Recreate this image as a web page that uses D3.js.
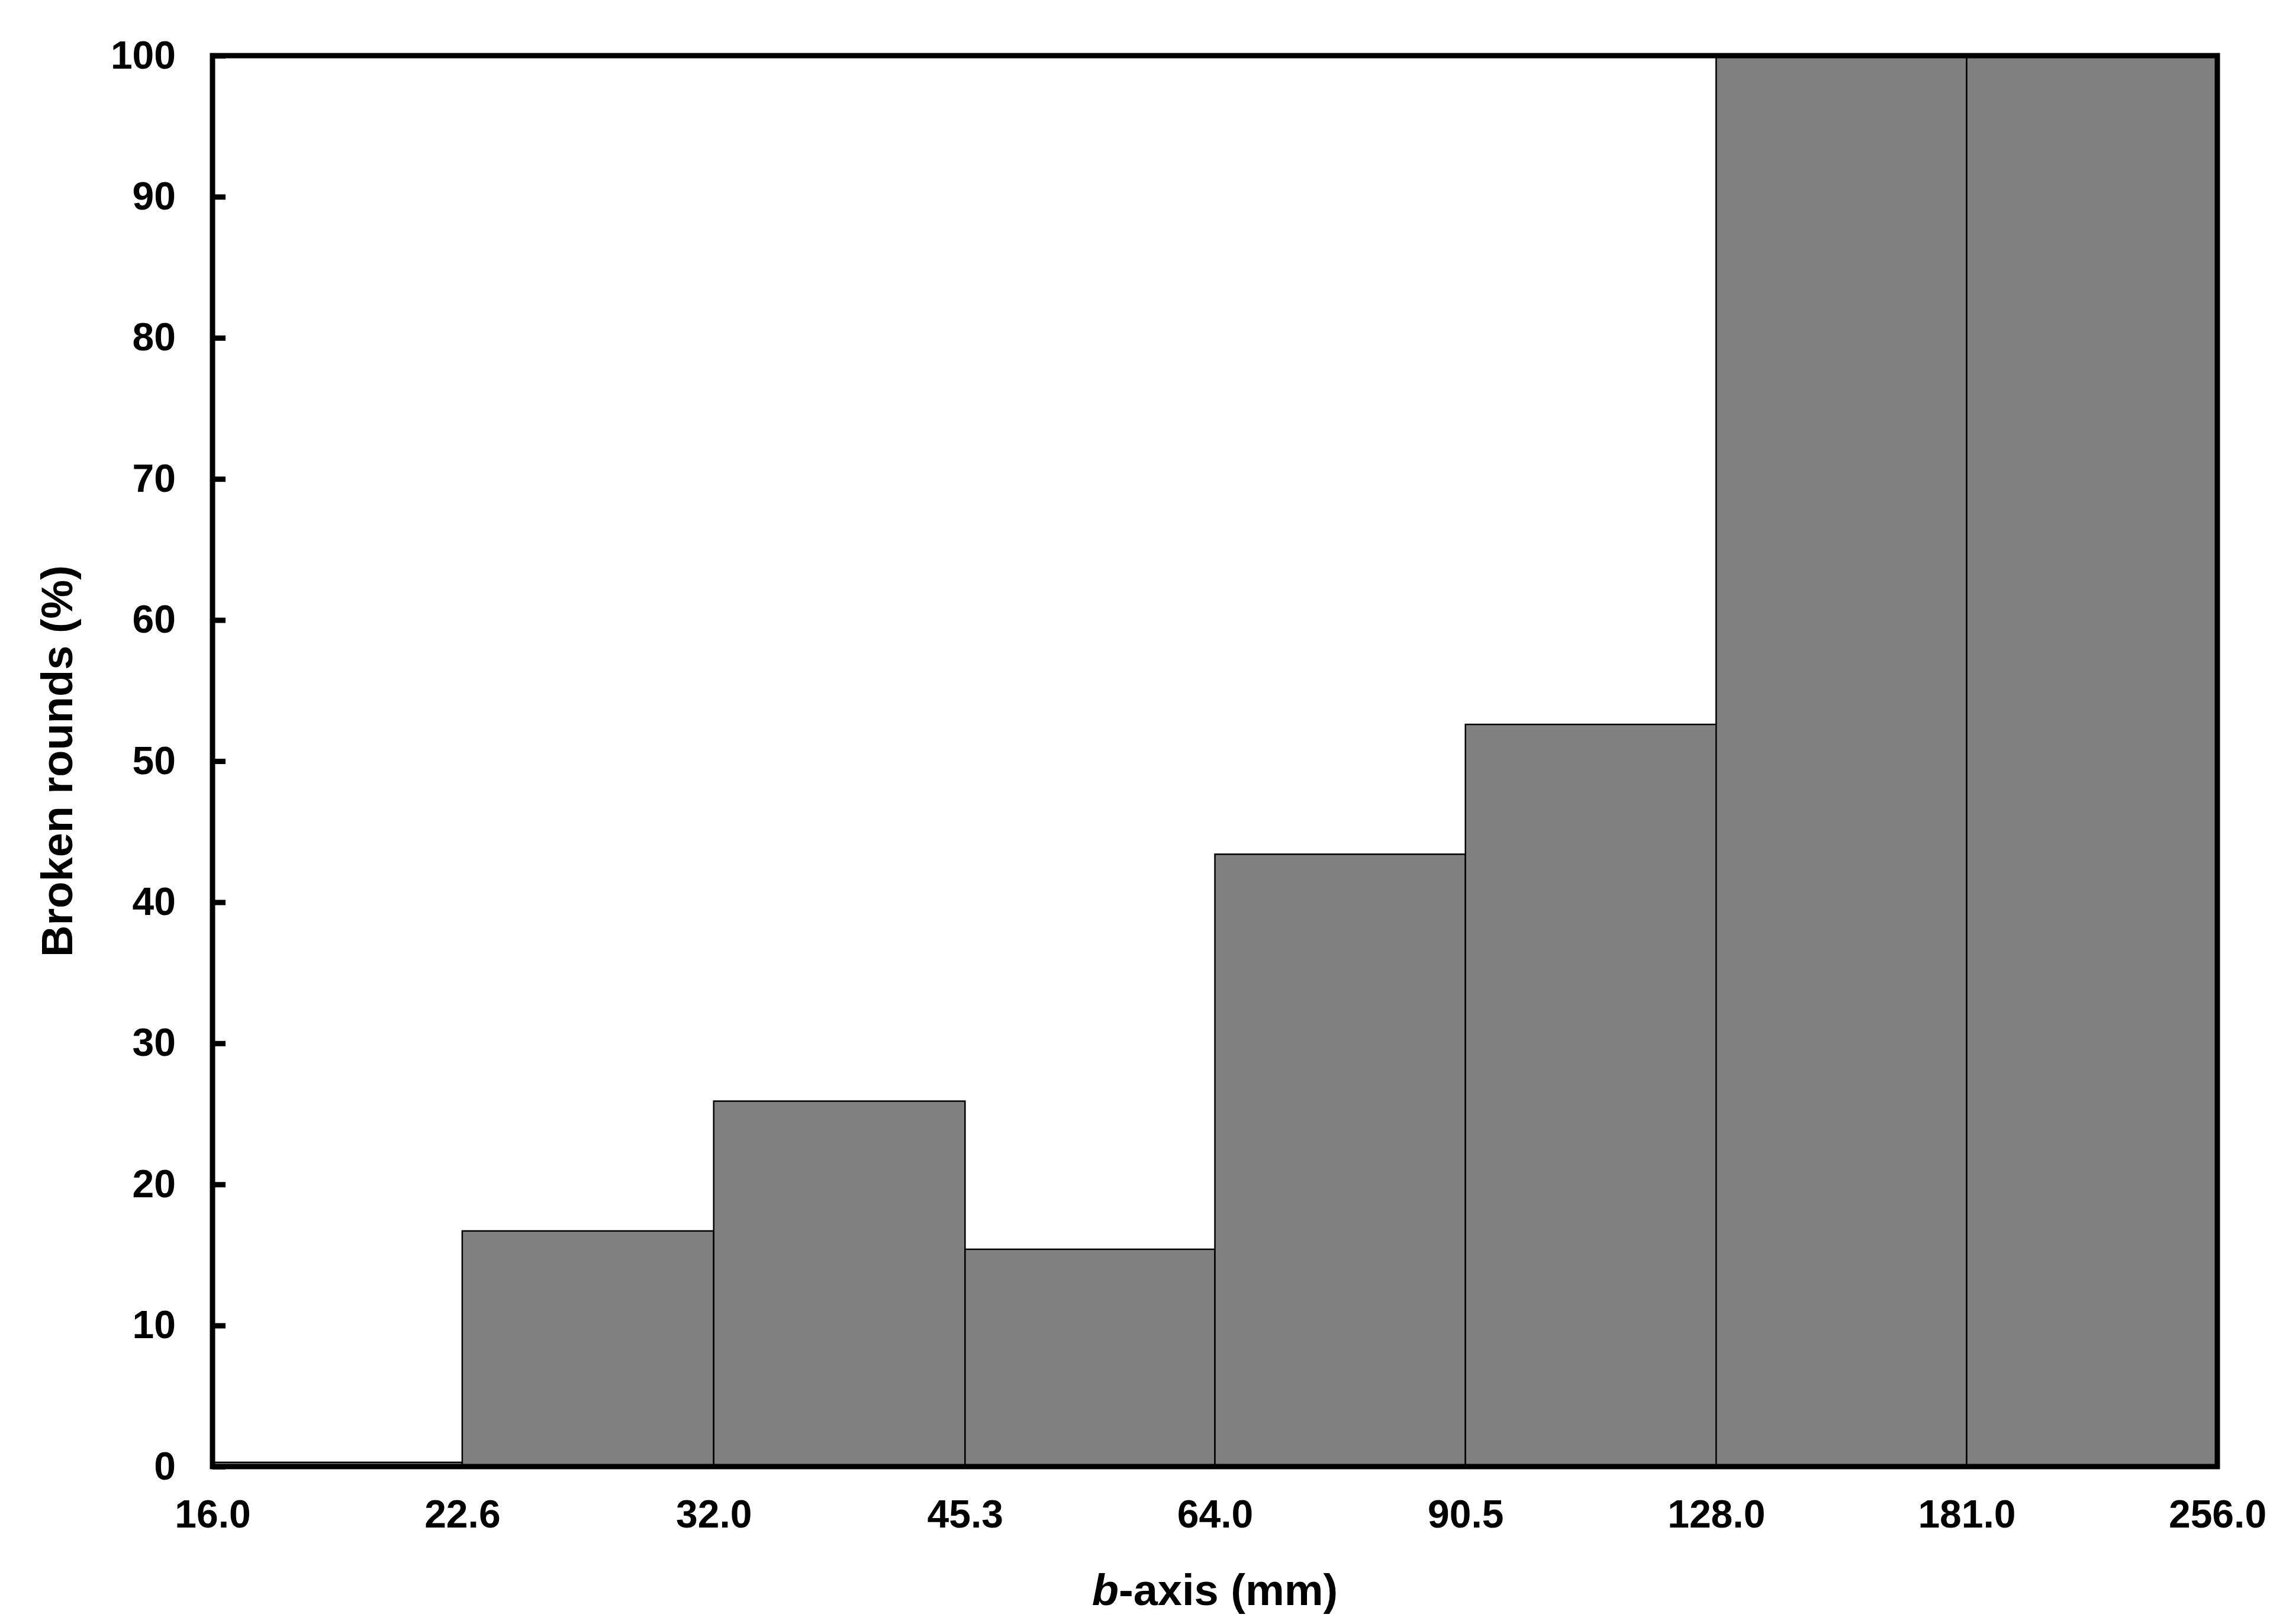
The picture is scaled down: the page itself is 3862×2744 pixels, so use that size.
<!DOCTYPE html>
<html><head><meta charset="utf-8">
<script src="https://cdn.jsdelivr.net/npm/d3@7"></script>
<style>body{margin:0;background:#fff}text{font-family:"Liberation Sans",Arial,sans-serif;font-weight:bold}</style>
</head><body><svg id="c" width="3862" height="2744"></svg>
<script>
var binEdges = [16.0, 22.6, 32.0, 45.3, 64.0, 90.5, 128.0, 181.0, 256.0];
var brokenPct = [0.3, 16.7, 25.9, 15.4, 43.4, 52.6, 100, 100];
var yTicks = [0, 10, 20, 30, 40, 50, 60, 70, 80, 90, 100];

var svg = d3.select('#c');
var m = {l: 359, r: 3746, t: 94, b: 2478};

var x = d3.scaleLog().base(2).domain([16, 256]).range([m.l, m.r]);
var y = d3.scaleLinear().domain([0, 100]).range([m.b, m.t]);

// bars
svg.append('g').selectAll('rect').data(brokenPct).join('rect')
	.attr('x', function(d, i) { return x(binEdges[i]); })
	.attr('width', function(d, i) { return x(binEdges[i + 1]) - x(binEdges[i]); })
	.attr('y', function(d) { return y(d); })
	.attr('height', function(d) { return y(0) - y(d); })
	.attr('fill', '#808080').attr('stroke', '#000').attr('stroke-width', 2.5);

// frame
svg.append('rect').attr('x', m.l).attr('y', m.t).attr('width', m.r - m.l).attr('height', m.b - m.t)
	.attr('fill', 'none').attr('stroke', '#000').attr('stroke-width', 9);

// y axis
var yAxis = svg.append('g').attr('transform', 'translate(' + m.l + ',0)')
	.call(d3.axisLeft(y).tickValues(yTicks).tickSize(-22).tickPadding(62));
yAxis.select('.domain').remove();
yAxis.selectAll('line').attr('stroke-width', 9);
yAxis.selectAll('text').attr('font-size', 66).attr('font-family', '"Liberation Sans",Arial,sans-serif');

// x axis labels
var xAxis = svg.append('g').attr('transform', 'translate(0,' + m.b + ')')
	.call(d3.axisBottom(x).tickValues(binEdges).tickSize(0).tickPadding(56)
		.tickFormat(function(d) { return d3.format('.1f')(d); }));
xAxis.select('.domain').remove();
xAxis.selectAll('text').attr('font-size', 66).attr('font-family', '"Liberation Sans",Arial,sans-serif');

// axis titles
var xt = svg.append('text').attr('x', (m.l + m.r) / 2).attr('y', 2712)
	.attr('text-anchor', 'middle').attr('font-size', 74);
xt.append('tspan').attr('font-style', 'italic').text('b');
xt.append('tspan').text('-axis (mm)');

svg.append('text').attr('transform', 'translate(122,' + (m.t + m.b) / 2 + ') rotate(-90)')
	.attr('text-anchor', 'middle').attr('font-size', 74).text('Broken rounds (%)');
</script></body></html>
